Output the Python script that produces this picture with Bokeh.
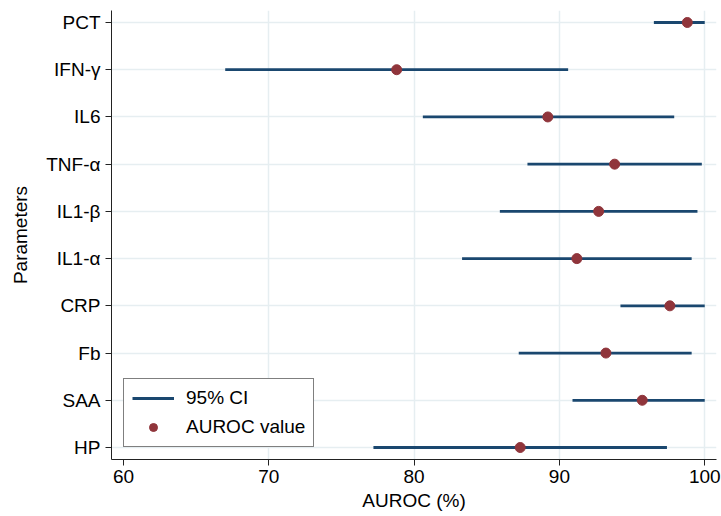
from bokeh.plotting import figure
from bokeh.models import Range1d, FixedTicker, Legend, LegendItem
from bokeh.embed import file_html
from bokeh.resources import INLINE

# Data (top to bottom in the chart)
params = ["PCT", "IFN-γ", "IL6", "TNF-α", "IL1-β", "IL1-α", "CRP", "Fb", "SAA", "HP"]
auroc = [98.8, 78.8, 89.2, 93.8, 92.7, 91.2, 97.6, 93.2, 95.7, 87.3]
ci_low = [96.5, 67.0, 80.6, 87.8, 85.9, 83.3, 94.2, 87.2, 90.9, 77.2]
ci_high = [100.0, 90.6, 97.9, 99.8, 99.5, 99.1, 100.0, 99.1, 100.0, 97.4]
x_ticks = [60, 70, 80, 90, 100]
grid_ticks = [70, 80, 90, 100]

n = len(params)
ypos = [n - i for i in range(n)]  # PCT at top

FONT = "Liberation Sans"
FS = "19px"
NAVY = "#1a476f"
MAROON = "#90353b"
GRID = "#e6eef1"

p = figure(width=721, height=516, output_backend="svg", toolbar_location=None,
           x_range=Range1d(59.174, 100.81), y_range=Range1d(0.746, n + 0.254),
           min_border_left=111, min_border_right=5, min_border_top=10, min_border_bottom=57)
p.outline_line_color = None
p.background_fill_color = "white"
p.border_fill_color = "white"

seg = p.segment(x0=ci_low, y0=ypos, x1=ci_high, y1=ypos, line_color=NAVY, line_width=2.8)
dots = p.scatter(x=auroc, y=ypos, size=10, fill_color=MAROON, line_color=MAROON)

# axes
p.xaxis.ticker = FixedTicker(ticks=x_ticks)
p.yaxis.ticker = FixedTicker(ticks=ypos)
p.yaxis.major_label_overrides = {y: name for y, name in zip(ypos, params)}
p.xaxis.axis_label = "AUROC (%)"
p.yaxis.axis_label = "Parameters"
for ax in (p.xaxis, p.yaxis):
    ax.axis_line_color = "#222222"
    ax.axis_line_width = 1
    ax.major_tick_line_color = "#222222"
    ax.major_tick_out = 6
    ax.major_tick_in = 0
    ax.minor_tick_line_color = None
    ax.major_label_text_font = FONT
    ax.major_label_text_font_size = FS
    ax.major_label_text_color = "black"
    ax.axis_label_text_font = FONT
    ax.axis_label_text_font_size = FS
    ax.axis_label_text_font_style = "normal"
    ax.axis_label_text_color = "black"
p.xaxis.major_label_standoff = 4
p.xaxis.axis_label_standoff = 4
p.yaxis.major_label_standoff = 5
p.yaxis.axis_label_standoff = 12

p.xgrid.ticker = FixedTicker(ticks=grid_ticks)
p.xgrid.grid_line_color = GRID
p.xgrid.grid_line_width = 1.5
p.ygrid.grid_line_color = GRID
p.ygrid.grid_line_width = 1.5

legend = Legend(items=[LegendItem(label="95% CI", renderers=[seg]),
                       LegendItem(label="AUROC value", renderers=[dots])],
                location=(12, 12))
legend.label_text_font = FONT
legend.label_text_font_size = FS
legend.label_text_color = "black"
legend.glyph_width = 42
legend.glyph_height = 20
legend.label_height = 20
legend.label_standoff = 12
legend.spacing = 7
legend.padding = 8
legend.margin = 0
legend.border_line_color = "black"
legend.border_line_width = 1
legend.background_fill_color = "white"
legend.background_fill_alpha = 1
p.add_layout(legend, "center")

open("out.html", "w").write(file_html(p, INLINE))
